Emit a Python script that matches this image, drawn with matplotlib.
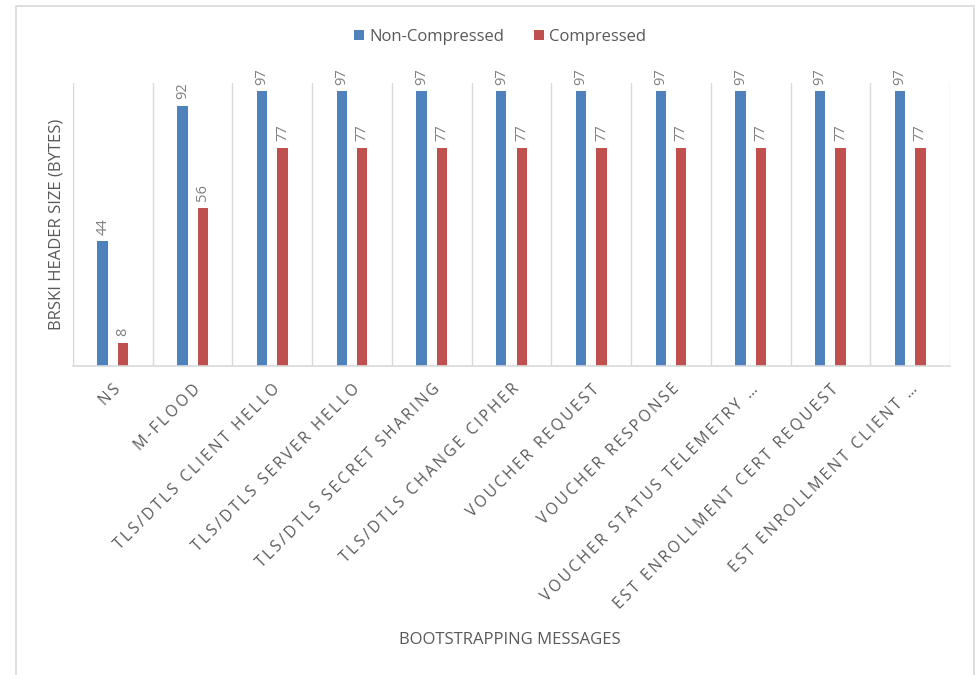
import numpy as np
import matplotlib
matplotlib.use("Agg")
import matplotlib.pyplot as plt
from matplotlib.patches import Rectangle

categories = [
    "NS",
    "M-FLOOD",
    "TLS/DTLS CLIENT HELLO",
    "TLS/DTLS SERVER HELLO",
    "TLS/DTLS SECRET SHARING",
    "TLS/DTLS CHANGE CIPHER",
    "VOUCHER REQUEST",
    "VOUCHER RESPONSE",
    "VOUCHER STATUS TELEMETRY \u2026",
    "EST ENROLLMENT CERT REQUEST",
    "EST ENROLLMENT CLIENT \u2026",
]
non_compressed = [44, 92, 97, 97, 97, 97, 97, 97, 97, 97, 97]
compressed = [8, 56, 77, 77, 77, 77, 77, 77, 77, 77, 77]

BLUE = "#4F81BD"
RED = "#C0504D"
TEXT = "#595959"
GRID = "#D9D9D9"

plt.rcParams["font.family"] = ["Open Sans", "DejaVu Sans"]


def spaced(s):
    # the original axis labels are letter-spaced
    return "\u2009".join(s)


fig = plt.figure(figsize=(9.75, 6.75), dpi=100)
ax = fig.add_axes([73 / 975, 1 - 366 / 675, (950 - 73) / 975, (366 - 83) / 675])

# outer chart frame
fig.patches.append(Rectangle((16 / 975, -0.01), (974 - 16) / 975, 1 - 6 / 675 + 0.01,
                             transform=fig.transFigure, fill=False,
                             edgecolor=GRID, linewidth=1.2))

x = np.arange(len(categories)) + 0.5
width = 0.13
offset = 0.128

b1 = ax.bar(x - offset, non_compressed, width, color=BLUE, label="Non-Compressed")
b2 = ax.bar(x + offset, compressed, width, color=RED, label="Compressed")

for bars in (b1, b2):
    ax.bar_label(bars, rotation=90, padding=5, color="#7F7F7F", fontsize=10.5)

ax.set_xlim(0, len(categories))
ax.set_ylim(0, 100)

# category separators
ax.set_xticks(np.arange(len(categories) + 1), minor=True)
ax.grid(True, which="minor", axis="x", color=GRID, linewidth=1)
ax.tick_params(which="minor", length=0)

ax.set_xticks(x)
ax.set_xticklabels([spaced(c) for c in categories], rotation=45, ha="right",
                   rotation_mode="anchor", fontsize=11.2, color=TEXT)
ax.tick_params(axis="x", length=0, pad=11)
ax.set_yticks([])

for s in ("top", "right", "left"):
    ax.spines[s].set_visible(False)
ax.spines["bottom"].set_color(GRID)
ax.spines["bottom"].set_linewidth(1.2)

ax.set_ylabel("BRSKI HEADER SIZE (BYTES)", fontsize=12, color=TEXT, labelpad=6)
fig.text(510 / 975, 1 - 640 / 675, "BOOTSTRAPPING MESSAGES", ha="center", va="center",
         fontsize=12, color=TEXT)

fig.legend(loc="center", bbox_to_anchor=(500 / 975, 1 - 37 / 675), ncol=2, frameon=False,
           fontsize=12, handlelength=0.6, handleheight=0.6, handletextpad=0.3,
           columnspacing=1.8, labelcolor=TEXT)

fig.savefig("out.png", dpi=100)
